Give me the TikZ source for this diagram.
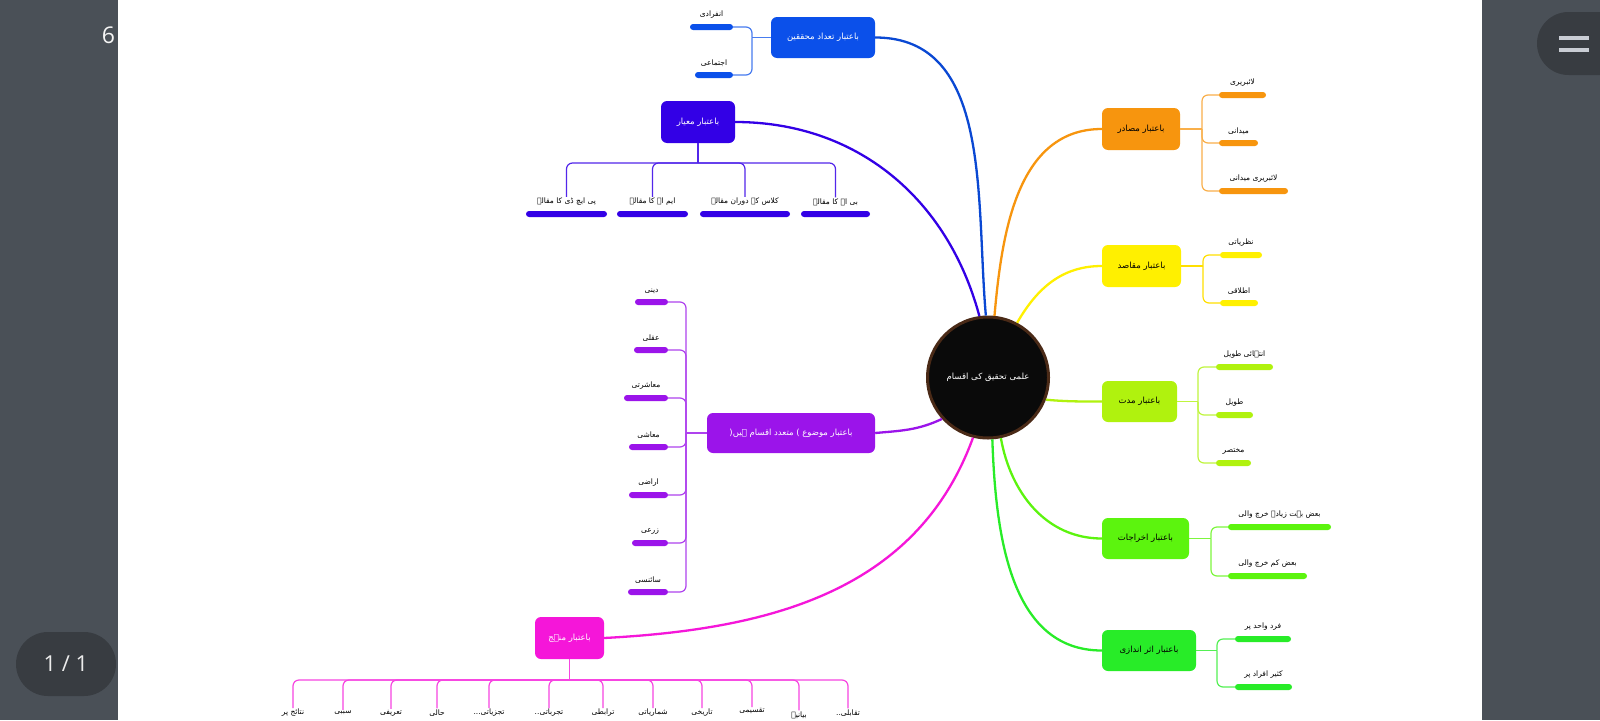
\documentclass[tikz,border=0pt]{standalone}
\usepackage{fontspec}
\setmainfont{Open Sans}
\newfontfamily\urdu[Script=Arabic]{DejaVu Sans}
\TeXXeTstate=1
\usetikzlibrary{positioning,calc}
\newcommand\ur[1]{\beginR #1\endR}

\definecolor{frame}{HTML}{4A5057}
\definecolor{pill}{HTML}{383C41}
\definecolor{menu}{HTML}{C9CDD4}
\definecolor{ring}{HTML}{4A2A17}
\definecolor{cBlue}{HTML}{0B50EA}
\definecolor{cIndigo}{HTML}{3300E6}
\definecolor{cPurple}{HTML}{9B14EA}
\definecolor{cMagenta}{HTML}{F516D9}
\definecolor{cOrange}{HTML}{F7950E}
\definecolor{cYellow}{HTML}{FFF000}
\definecolor{cLime}{HTML}{B0F20E}
\definecolor{cGreen}{HTML}{5CF40E}
\definecolor{cLeaf}{HTML}{28EC28}

\begin{document}
\begin{tikzpicture}[x=1pt,y=-1pt,
  topic/.style={rectangle,rounded corners=6pt,minimum height=41pt,inner sep=2pt,font=\urdu\fontsize{8.5}{9}\selectfont},
  leaf/.style={inner sep=1pt,text=black,font=\urdu\fontsize{7.5}{8}\selectfont},
  bar/.style={rectangle,rounded corners=3pt,minimum height=6pt,inner sep=0pt},
  link/.style={line width=2.3pt},
  brk/.style={line width=1.2pt,rounded corners=6pt}
]
\useasboundingbox (0,0) rectangle (1600,720);

% viewer frame
\fill[frame] (0,0) rectangle (1600,720);
\fill[white] (118,0) rectangle (1482,720);
\fill[pill,rounded corners=31.5pt] (1537,12) rectangle (1690,75);
\draw[menu,line width=4pt] (1559,38) -- (1589,38);
\draw[menu,line width=4pt] (1559,50) -- (1589,50);
\node[text=white!92!gray,font=\fontsize{23}{23}\selectfont] (pgno) at (108.5,35.5) {6};
\node[fill=pill,rounded corners=32pt,minimum width=100pt,minimum height=64pt,text=white!85!gray,font=\fontsize{22}{22}\selectfont] (pager) at (66,664) {1 / 1};

% centre
\node[circle,draw=ring,line width=3pt,fill=black!96,minimum size=121pt,text=white,font=\urdu\fontsize{8.5}{10}\selectfont] (hub) at (988,377.5) {\ur{علمی تحقیق کی اقسام}};

% topics
\node[topic,fill=cBlue,text=white,minimum width=104pt] (tad) at (823,37.5) {\ur{باعتبار تعداد محققین}};
\node[topic,fill=cIndigo,text=white,minimum width=74pt,minimum height=42pt] (mey) at (698,122) {\ur{باعتبار معیار}};
\node[topic,fill=cPurple,text=white,minimum width=168pt,minimum height=40pt] (maw) at (791,433) {\ur{باعتبار موضوع ) متعدد اقسام ہیں\kern0pt(}};
\node[topic,fill=cMagenta,text=white,minimum width=69pt,minimum height=42pt] (mnh) at (569.5,638) {\ur{باعتبار منہج}};
\node[topic,fill=cOrange,minimum width=78pt,minimum height=42pt] (msd) at (1141,129) {\ur{باعتبار مصادر}};
\node[topic,fill=cYellow,minimum width=79pt,minimum height=42pt] (mqs) at (1141.5,266) {\ur{باعتبار مقاصد}};
\node[topic,fill=cLime,minimum width=75pt] (mdt) at (1139.5,401.5) {\ur{باعتبار مدت}};
\node[topic,fill=cGreen,minimum width=87pt] (mkh) at (1145.5,538.5) {\ur{باعتبار اخراجات}};
\node[topic,fill=cLeaf,minimum width=94pt] (asr) at (1149,650.5) {\ur{باعتبار اثر اندازی}};

% hub links
\draw[link,cBlue!90!black] (tad.east) to[out=0,in=95] (hub.92);
\draw[link,cIndigo] (mey.east) to[out=0,in=105] (hub.98);
\draw[link,cPurple] (maw.east) to[out=5,in=205] (hub.222);
\draw[link,cMagenta] (mnh.east) to[out=3,in=250] (hub.256);
\draw[link,cOrange] (hub.84) to[out=85,in=180] (msd.west);
\draw[link,cYellow] (hub.62) to[out=60,in=180] (mqs.west);
\draw[link,cLime] (hub.-21) to[out=-5,in=180] (mdt.west);
\draw[link,cGreen] (hub.-78) to[out=-80,in=180] (mkh.west);
\draw[link,cLeaf] (hub.-86) to[out=-88,in=180] (asr.west);

% tadad
\node[bar,fill=cBlue,minimum width=43pt] (infr) at (711.5,27) {};
\node[leaf,above=4pt of infr] (infrT) {\ur{انفرادی}};
\node[bar,fill=cBlue,minimum width=38pt] (ijt) at (714,75) {};
\node[leaf,above=4pt of ijt] (ijtT) {\ur{اجتماعی}};
\coordinate (tadJ) at (752,37.5);
\draw[brk,cBlue!75] (tad.west) -- (tadJ);
\foreach \b in {infr,ijt} \draw[brk,cBlue!75] (tadJ) |- (\b.east);

% meyar
\node[bar,fill=cIndigo,minimum width=81pt] (phd) at (566.5,214) {};
\node[leaf,above=4pt of phd] (phdT) {\ur{پی ایچ ڈی کا مقالہ}};
\node[bar,fill=cIndigo,minimum width=71pt] (ma) at (652.5,214) {};
\node[leaf,above=4pt of ma] (maT) {\ur{ایم اے کا مقالہ}};
\node[bar,fill=cIndigo,minimum width=90pt] (cls) at (745,214) {};
\node[leaf,above=4pt of cls] (clsT) {\ur{کلاس کے دوران مقالہ}};
\node[bar,fill=cIndigo,minimum width=69pt] (ba) at (835.5,214) {};
\node[leaf,above=4pt of ba] (baT) {\ur{بی اے کا مقالہ}};
\coordinate (meyJ) at (698,163);
\draw[brk,cIndigo!85] (mey.south) -- (meyJ);
\foreach \b in {phd,ma,cls,ba} \draw[brk,cIndigo!85] (meyJ) -| (\b T.north);

% mauzu
\node[bar,fill=cPurple,minimum width=33pt] (dini) at (651.5,302) {};
\node[leaf,above=4pt of dini] (diniT) {\ur{دینی}};
\node[bar,fill=cPurple,minimum width=34pt] (aqli) at (651,350) {};
\node[leaf,above=4pt of aqli] (aqliT) {\ur{عقلی}};
\node[bar,fill=cPurple,minimum width=44pt] (msht) at (646,398) {};
\node[leaf,above=4pt of msht] (mshtT) {\ur{معاشرتی}};
\node[bar,fill=cPurple,minimum width=39pt] (mash) at (648.5,447) {};
\node[leaf,above=4pt of mash] (mashT) {\ur{معاشی}};
\node[bar,fill=cPurple,minimum width=39pt] (arzi) at (648.5,495) {};
\node[leaf,above=4pt of arzi] (arziT) {\ur{اراضی}};
\node[bar,fill=cPurple,minimum width=36pt] (zari) at (650,543) {};
\node[leaf,above=4pt of zari] (zariT) {\ur{زرعی}};
\node[bar,fill=cPurple,minimum width=40pt] (sais) at (648,592) {};
\node[leaf,above=4pt of sais] (saisT) {\ur{سائنسی}};
\coordinate (mawJ) at (686,433);
\draw[brk,cPurple!80] (maw.west) -- (mawJ);
\foreach \b in {dini,aqli,msht,mash,arzi,zari,sais} \draw[brk,cPurple!80] (mawJ) |- (\b.east);

% manhaj
\node[leaf] (ntj) at (293,713) {\ur{نتائج پر}};
\node[leaf] (sbb) at (343,713) {\ur{سببی}};
\node[leaf] (trf) at (391,713) {\ur{تعریفی}};
\node[leaf] (hal) at (437,713) {\ur{حالی}};
\node[leaf] (tjz) at (489,713) {\ur{تجزیاتی\kern0pt...}};
\node[leaf] (tjr) at (549,713) {\ur{تجرباتی\kern0pt..}};
\node[leaf] (trb) at (603,713) {\ur{ترابطی}};
\node[leaf] (shm) at (653,713) {\ur{شماریاتی}};
\node[leaf] (tar) at (702,713) {\ur{تاریخی}};
\node[leaf] (tqs) at (752,711) {\ur{تقسیمی}};
\node[leaf] (byn) at (799,715) {\ur{بیانیہ}};
\node[leaf] (tqb) at (848,713) {\ur{تقابلی\kern0pt..}};
\coordinate (mnhJ) at (569.5,680);
\draw[brk,cMagenta!80] (mnh.south) -- (mnhJ);
\foreach \b in {ntj,sbb,trf,hal,tjz,tjr,trb,shm,tar,tqs,byn,tqb} \draw[brk,cMagenta!80] (mnhJ) -| (\b.north);

% masadir
\node[bar,fill=cOrange,minimum width=47pt] (lib) at (1242.5,95) {};
\node[leaf,above=4pt of lib] (libT) {\ur{لائبریری}};
\node[bar,fill=cOrange,minimum width=39pt] (mdn) at (1238.5,143) {};
\node[leaf,above=4pt of mdn] (mdnT) {\ur{میدانی}};
\node[bar,fill=cOrange,minimum width=69pt] (lmd) at (1253.5,191) {};
\node[leaf,above=4pt of lmd] (lmdT) {\ur{لائبریری میدانی}};
\coordinate (msdJ) at (1202,129);
\draw[brk,cOrange!75] (msd.east) -- (msdJ);
\foreach \b in {lib,mdn,lmd} \draw[brk,cOrange!75] (msdJ) |- (\b.west);

% maqasid
\node[bar,fill=cYellow,minimum width=42pt] (nzr) at (1241,255) {};
\node[leaf,above=4pt of nzr] (nzrT) {\ur{نظریاتی}};
\node[bar,fill=cYellow,minimum width=38pt] (itl) at (1239,303) {};
\node[leaf,above=4pt of itl] (itlT) {\ur{اطلاقی}};
\coordinate (mqsJ) at (1203,266);
\draw[brk,cYellow!85!orange] (mqs.east) -- (mqsJ);
\foreach \b in {nzr,itl} \draw[brk,cYellow!85!orange] (mqsJ) |- (\b.west);

% muddat
\node[bar,fill=cLime,minimum width=57pt] (ith) at (1244.5,367) {};
\node[leaf,above=4pt of ith] (ithT) {\ur{انتہائی طویل}};
\node[bar,fill=cLime,minimum width=37pt] (twl) at (1234.5,415) {};
\node[leaf,above=4pt of twl] (twlT) {\ur{طویل}};
\node[bar,fill=cLime,minimum width=35pt] (mkt) at (1233.5,463) {};
\node[leaf,above=4pt of mkt] (mktT) {\ur{مختصر}};
\coordinate (mdtJ) at (1198,401.5);
\draw[brk,cLime!80] (mdt.east) -- (mdtJ);
\foreach \b in {ith,twl,mkt} \draw[brk,cLime!80] (mdtJ) |- (\b.west);

% ikhrajat
\node[bar,fill=cGreen,minimum width=103pt] (zyd) at (1279.5,527) {};
\node[leaf,above=4pt of zyd] (zydT) {\ur{بعض بہت زیادہ خرچ والی}};
\node[bar,fill=cGreen,minimum width=79pt] (kam) at (1267.5,576) {};
\node[leaf,above=4pt of kam] (kamT) {\ur{بعض کم خرچ والی}};
\coordinate (mkhJ) at (1211,538.5);
\draw[brk,cGreen!80] (mkh.east) -- (mkhJ);
\foreach \b in {zyd,kam} \draw[brk,cGreen!80] (mkhJ) |- (\b.west);

% asar andazi
\node[bar,fill=cLeaf,minimum width=56pt] (frd) at (1263,639) {};
\node[leaf,above=4pt of frd] (frdT) {\ur{فرد واحد پر}};
\node[bar,fill=cLeaf,minimum width=57pt] (ksr) at (1263.5,687) {};
\node[leaf,above=4pt of ksr] (ksrT) {\ur{کثیر افراد پر}};
\coordinate (asrJ) at (1217,650.5);
\draw[brk,cLeaf!80] (asr.east) -- (asrJ);
\foreach \b in {frd,ksr} \draw[brk,cLeaf!80] (asrJ) |- (\b.west);
\end{tikzpicture}
\end{document}
